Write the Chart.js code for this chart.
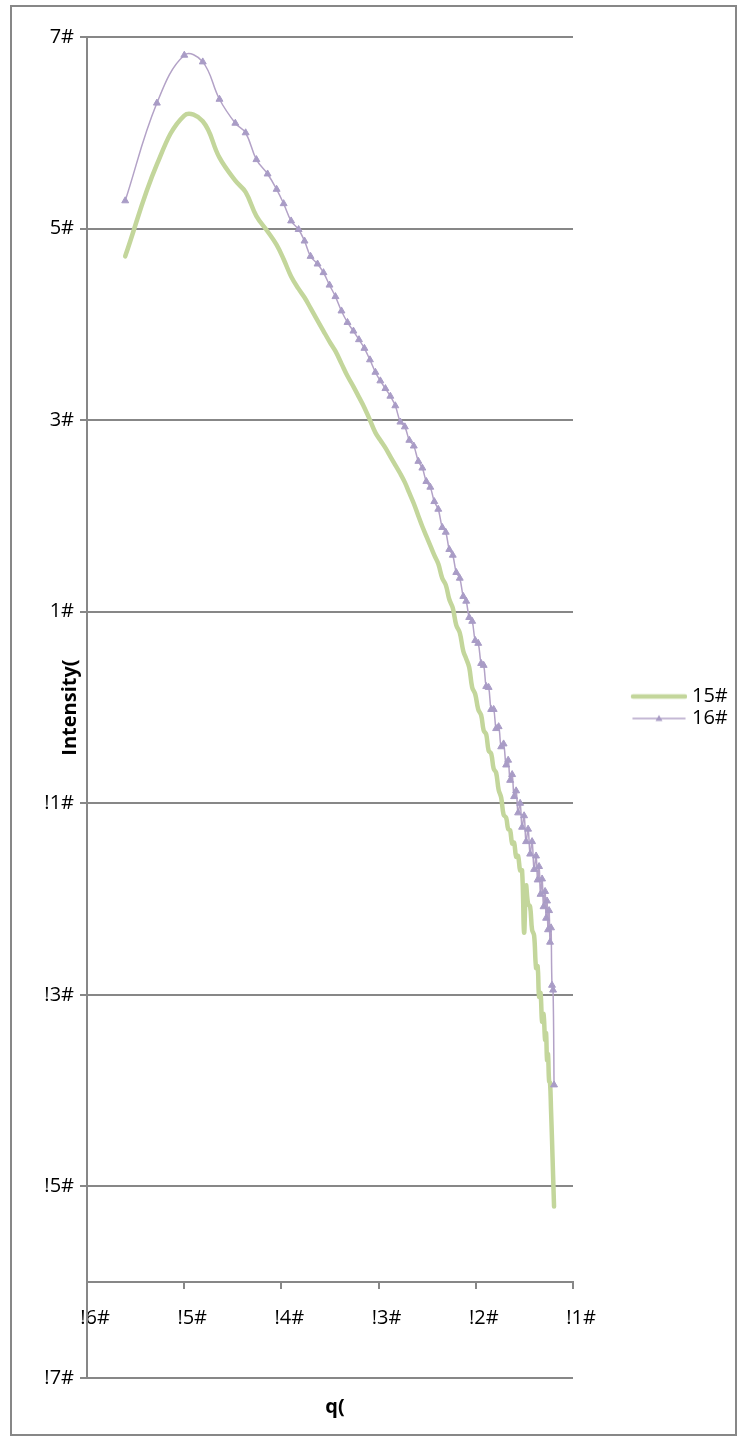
<!DOCTYPE html>
<html>
<head>
<meta charset="utf-8">
<title>Intensity vs q</title>
<script src="https://cdn.jsdelivr.net/npm/chart.js@4.4.1/dist/chart.umd.min.js"></script>
<style>
    html, body { margin: 0; padding: 0; background: #ffffff; }
    #wrap { position: relative; width: 742px; height: 1441px; }
</style>
</head>
<body>
<div id="wrap"><canvas id="saxsChart"></canvas></div>
<script>
// log10(q) sampling, shared by both runs
var logQ = [
    -5.607, -5.281, -4.999, -4.809, -4.637, -4.474, -4.368, -4.257, -4.142, -4.049,
    -3.977, -3.900, -3.823, -3.762, -3.700, -3.628, -3.567, -3.505, -3.444, -3.382,
    -3.320, -3.259, -3.202, -3.146, -3.089, -3.033, -2.982, -2.930, -2.879, -2.828,
    -2.776, -2.730, -2.684, -2.638, -2.591, -2.550, -2.509, -2.468, -2.427, -2.386,
    -2.345, -2.309, -2.273, -2.237, -2.201, -2.165, -2.129, -2.099, -2.068, -2.037,
    -2.006, -1.975, -1.945, -1.919, -1.893, -1.868, -1.842, -1.816, -1.791, -1.765,
    -1.739, -1.714, -1.688, -1.667, -1.647, -1.626, -1.606, -1.585, -1.565, -1.544,
    -1.524, -1.503, -1.483, -1.462, -1.441, -1.421, -1.400, -1.380, -1.364, -1.349,
    -1.334, -1.318, -1.303, -1.287, -1.277, -1.267, -1.257, -1.246, -1.236, -1.226,
    -1.216, -1.205, -1.195
];

// log10(intensity), run 15#
var intensity15 = [
    4.71, 5.67, 6.18, 6.12, 5.74, 5.50, 5.38, 5.13, 4.97, 4.83,
    4.68, 4.50, 4.37, 4.28, 4.17, 4.04, 3.93, 3.82, 3.72, 3.59,
    3.46, 3.35, 3.24, 3.13, 3.00, 2.87, 2.79, 2.71, 2.62, 2.53,
    2.44, 2.35, 2.24, 2.13, 2.00, 1.89, 1.79, 1.69, 1.59, 1.50,
    1.35, 1.28, 1.13, 1.04, 0.86, 0.78, 0.59, 0.51, 0.42, 0.21,
    0.14, -0.02, -0.08, -0.24, -0.28, -0.45, -0.48, -0.64, -0.68, -0.86,
    -0.94, -1.12, -1.15, -1.27, -1.28, -1.42, -1.41, -1.56, -1.55, -1.70,
    -1.70, -2.35, -1.86, -2.05, -2.08, -2.32, -2.38, -2.72, -2.70, -3.02,
    -2.98, -3.28, -3.20, -3.47, -3.40, -3.68, -3.62, -3.90, -3.92, -4.20,
    -4.51, -4.88, -5.21
];

// log10(intensity), run 16#
var intensity16 = [
    5.29, 6.31, 6.81, 6.74, 6.35, 6.10, 6.00, 5.72, 5.57, 5.41,
    5.26, 5.08, 4.99, 4.87, 4.71, 4.63, 4.54, 4.41, 4.29, 4.14,
    4.02, 3.93, 3.84, 3.75, 3.63, 3.50, 3.41, 3.33, 3.25, 3.15,
    2.98, 2.93, 2.79, 2.73, 2.57, 2.50, 2.36, 2.30, 2.15, 2.07,
    1.88, 1.83, 1.65, 1.59, 1.41, 1.35, 1.16, 1.11, 0.94, 0.90,
    0.70, 0.67, 0.46, 0.44, 0.22, 0.21, -0.02, -0.02, -0.22, -0.20,
    -0.41, -0.38, -0.60, -0.55, -0.76, -0.70, -0.93, -0.87, -1.10, -1.00,
    -1.25, -1.13, -1.40, -1.27, -1.53, -1.40, -1.69, -1.55, -1.80, -1.66,
    -1.95, -1.79, -2.08, -1.92, -2.20, -2.02, -2.32, -2.12, -2.45, -2.30,
    -2.90, -2.95, -3.94
];

var seriesNames = ["15#", "16#"];
var xTicks = [-6, -5, -4, -3, -2, -1];
var yTicks = [-7, -5, -3, -1, 1, 3, 5, 7];

var GREEN = "#c3d69b";
var PURPLE = "#b3a2c7";
var MARKER = "#a99cc6";
var AXIS_GREY = "#878787";
var FONT = "'Open Sans', 'DejaVu Sans', sans-serif";

// the source file writes minus signs as "!" and appends "#"
function tickText(v) {
    return (v < 0 ? "!" + Math.abs(v) : String(v)) + "#";
}

function toPoints(ys) {
    return ys.map(function (y, i) { return { x: logQ[i], y: y }; });
}

// legend swatches: line sample drawn in the right part of a wide canvas
function makeSwatch(color, width, withMarker) {
    var c = document.createElement("canvas");
    c.width = 117;
    c.height = 14;
    var g = c.getContext("2d");
    g.strokeStyle = color;
    g.lineWidth = width;
    g.lineCap = "round";
    g.beginPath();
    g.moveTo(63, 7);
    g.lineTo(115, 7);
    g.stroke();
    if (withMarker) {
        g.fillStyle = MARKER;
        g.beginPath();
        g.moveTo(89, 3.5);
        g.lineTo(92.5, 9.5);
        g.lineTo(85.5, 9.5);
        g.closePath();
        g.fill();
    }
    return c;
}
var swatches = [makeSwatch(GREEN, 4.5, false), makeSwatch(PURPLE, 1.5, true)];

// outer frame and both axis titles
var chartDecor = {
    id: "chartDecor",
    afterDraw: function (chart) {
        var ctx = chart.ctx;
        var area = chart.chartArea;
        ctx.save();
        ctx.strokeStyle = AXIS_GREY;
        ctx.lineWidth = 2;
        ctx.strokeRect(11, 6, 725, 1429);

        ctx.fillStyle = "#000000";
        ctx.font = "bold 20px " + FONT;
        ctx.textAlign = "center";
        ctx.textBaseline = "middle";
        ctx.fillText("q(", (area.left + area.right) / 2 + 5, 1407);

        ctx.translate(70, (area.top + area.bottom) / 2);
        ctx.rotate(-Math.PI / 2);
        ctx.fillText("Intensity(", 0, 0);
        ctx.restore();
    }
};

var ctx = document.getElementById("saxsChart").getContext("2d");

var saxsChart = new Chart(ctx, {
    type: "line",
    data: {
        datasets: [
            {
                label: seriesNames[0],
                data: toPoints(intensity15),
                borderColor: GREEN,
                backgroundColor: GREEN,
                borderWidth: 4.5,
                borderCapStyle: "round",
                borderJoinStyle: "round",
                pointRadius: 0,
                tension: 0.4,
                order: 2,
            },
            {
                label: seriesNames[1],
                data: toPoints(intensity16),
                borderColor: PURPLE,
                backgroundColor: MARKER,
                borderWidth: 1.5,
                pointStyle: "triangle",
                pointRadius: 4,
                pointBackgroundColor: MARKER,
                pointBorderColor: MARKER,
                pointBorderWidth: 1,
                tension: 0.4,
                order: 1,
            },
        ],
    },
    options: {
        responsive: true,
        maintainAspectRatio: false,
        animation: false,
        devicePixelRatio: 1,
        layout: {
            padding: { top: 37, bottom: 63, left: 0, right: 5 },
        },
        scales: {
            x: {
                type: "linear",
                min: -6,
                max: -1,
                position: { y: -6 },
                afterBuildTicks: function (scale) {
                    scale.ticks = xTicks.map(function (v) { return { value: v }; });
                },
                grid: {
                    display: true,
                    drawOnChartArea: false,
                    drawTicks: true,
                    tickLength: 6,
                    color: AXIS_GREY,
                    lineWidth: 2,
                },
                border: { display: true, color: AXIS_GREY, width: 2 },
                ticks: {
                    autoSkip: false,
                    maxRotation: 0,
                    padding: 18,
                    labelOffset: 8,
                    color: "#000000",
                    font: { family: FONT, size: 20 },
                    callback: function (value) { return tickText(value); },
                },
            },
            y: {
                type: "linear",
                min: -7,
                max: 7,
                position: "left",
                afterBuildTicks: function (scale) {
                    scale.ticks = yTicks.map(function (v) { return { value: v }; });
                },
                afterFit: function (scale) {
                    scale.width = 87;
                },
                grid: {
                    color: AXIS_GREY,
                    lineWidth: 2,
                    drawTicks: true,
                    tickLength: 7,
                },
                border: { display: true, color: AXIS_GREY, width: 2 },
                ticks: {
                    padding: 6,
                    color: "#000000",
                    font: { family: FONT, size: 20 },
                    callback: function (value) { return tickText(value); },
                },
            },
        },
        plugins: {
            tooltip: { enabled: false },
            legend: {
                position: "right",
                maxWidth: 164,
                labels: {
                    usePointStyle: true,
                    pointStyleWidth: 107,
                    boxHeight: 20,
                    padding: 2,
                    color: "#000000",
                    font: { family: FONT, size: 20 },
                    sort: function (a, b) { return a.datasetIndex - b.datasetIndex; },
                    generateLabels: function (chart) {
                        var items = Chart.defaults.plugins.legend.labels.generateLabels(chart);
                        items.forEach(function (item) {
                            item.pointStyle = swatches[item.datasetIndex];
                        });
                        return items;
                    },
                },
            },
        },
    },
    plugins: [chartDecor],
});
</script>
</body>
</html>
